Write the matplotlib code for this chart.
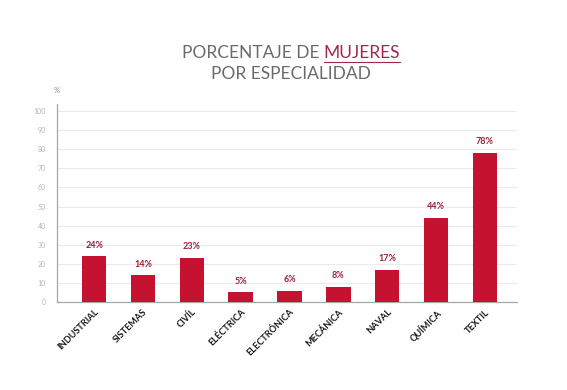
import matplotlib.pyplot as plt
import numpy as np

categorias = ["INDUSTRIAL", "SISTEMAS", "CIVÍL", "ELÉCTRICA", "ELECTRÓNICA",
              "MECÁNICA", "NAVAL", "QUÍMICA", "TEXTIL"]
porcentajes = [24, 14, 23, 5, 6, 8, 17, 44, 78]
yticks = list(range(0, 101, 10))

plt.rcParams['font.family'] = ['Lato', 'DejaVu Sans']

fig = plt.figure(figsize=(5.67, 3.9), dpi=100)
ax = fig.add_axes([0.1005, 0.2256, 0.8115, 0.509])

x = np.arange(len(categorias))
bars = ax.bar(x, porcentajes, width=0.5, color='#c51230', zorder=3)
for b, v in zip(bars, porcentajes):
    ax.text(b.get_x() + b.get_width() / 2, v + 3.5, f"{v}%", ha='center', va='bottom',
            fontsize=6.5, fontweight='bold', color='#9e1f3c')

ax.set_xlim(-0.76, 8.66)
ax.set_ylim(0, 104)
ax.set_yticks(yticks)
ax.set_yticklabels([str(t) for t in yticks], fontsize=5, color='#b5b5b5')
ax.yaxis.grid(True, color='#ebebeb', linewidth=0.8, zorder=0)
ax.tick_params(axis='y', length=0, pad=8)
ax.tick_params(axis='x', length=0, pad=4)
ax.set_xticks(x)
ax.set_xticklabels(categorias, rotation=45, ha='right', rotation_mode='anchor',
                   fontsize=6.6, fontweight='bold', color='#1a1a1a')
for s in ['top', 'right']:
    ax.spines[s].set_visible(False)
ax.spines['left'].set_color('#a8a8a8')
ax.spines['bottom'].set_color('#a8a8a8')
ax.spines['left'].set_linewidth(0.9)
ax.spines['bottom'].set_linewidth(0.9)

fig.text(0.1005, 0.768, "%", ha='center', va='center', fontsize=5.5, color='#888888')

# titulo en dos lineas, con MUJERES resaltado
gris = '#6a6a6a'
t1 = fig.text(0, 0.864, "PORCENTAJE DE ", fontsize=12.5, color=gris, va='center')
t2 = fig.text(0, 0.864, "MUJERES", fontsize=12.5, color='#a3264d', va='center')
fig.canvas.draw()
r = fig.canvas.get_renderer()
w1 = t1.get_window_extent(r).width
w2 = t2.get_window_extent(r).width
W = fig.bbox.width
x0 = (291 - (w1 + w2) / 2) / W
t1.set_x(x0)
t2.set_x(x0 + w1 / W)
fig.add_artist(plt.Line2D([x0 + w1 / W, x0 + (w1 + w2) / W], [0.841, 0.841],
                          color='#a3264d', linewidth=0.8, transform=fig.transFigure))
fig.text(291 / W, 0.810, "POR ESPECIALIDAD", fontsize=12.5, color=gris,
         ha='center', va='center')

fig.savefig("out.png", dpi=100)
